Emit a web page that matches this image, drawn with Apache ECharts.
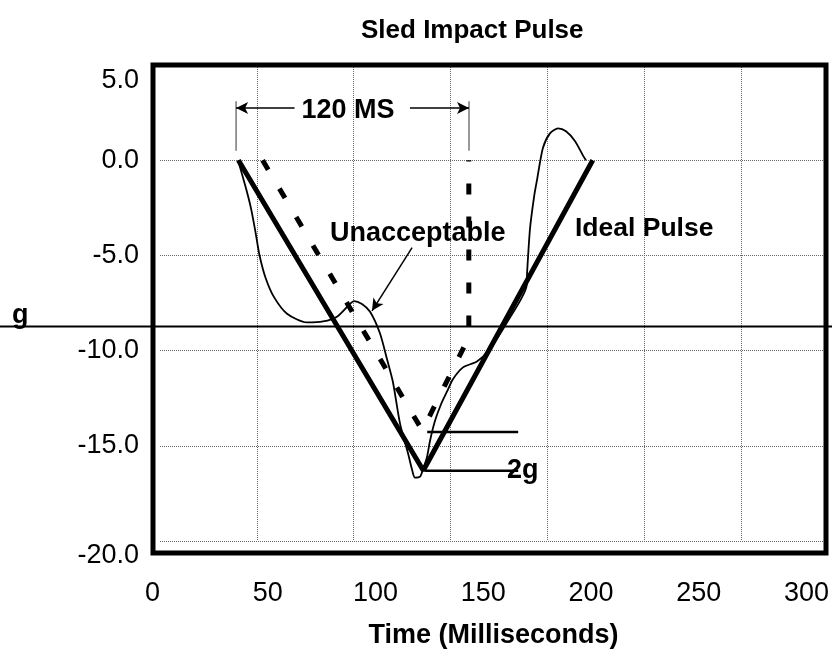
<!DOCTYPE html>
<html>
<head>
<meta charset="utf-8">
<script src="https://cdn.jsdelivr.net/npm/echarts@6/dist/echarts.min.js"></script>
<style>
  html, body { margin: 0; padding: 0; background: #fff; }
  #chart { width: 832px; height: 654px; }
</style>
</head>
<body>
<div id="chart"></div>
<script>
// ---------- data ----------
const xTickLabels = [0, 50, 100, 150, 200, 250, 300];

const idealX = [40.5, 136, 223.5];
const idealY = [0, -16.3, 0];

const dashX = [53, 135.5, 159.5, 159.5];
const dashY = [0, -14.2, -9.3, 0];

const thinX = [40.3, 44.2, 47.0, 49.3, 51.4, 54.5, 58.9, 65.6, 75.9, 84.2, 91.4, 98.1, 100.2,
  104.3, 108.5, 113.6, 117.3, 120.3, 124.0, 128.1, 130.2, 131.7, 134.3, 135.8, 137.9, 139.5,
  142.0, 145.1, 148.2, 151.3, 156.5, 163.7, 170.0, 179.5, 189.3, 189.6, 191.1, 193.2, 194.7,
  197.8, 201.4, 205.6, 209.7, 214.4, 218.5, 220.0];
const thinY = [0, -1.40, -2.53, -3.76, -4.99, -6.17, -7.19, -8.06, -8.52, -8.47, -8.22, -7.55, -7.40,
  -7.55, -7.96, -9.09, -10.47, -11.65, -13.85, -15.39, -16.26, -16.67, -16.62, -16.26, -15.59, -14.72,
  -13.70, -12.83, -12.16, -11.50, -10.88, -10.57, -9.96, -8.47, -6.63, -5.91, -3.60, -1.92, -1.05,
  0.65, 1.41, 1.67, 1.52, 1.00, 0.24, 0];

// "120 MS" bracket
const bracketX = [39.3, 159.6];
const bracketY = [3.1, 0.49];
const arrowY = 2.74;
const arrowLeftFrom = 69.5, arrowRightFrom = 129.1;

// "Unacceptable" arrow
const unaccArrowFrom = [130.2, -4.59];
const unaccArrowTo = [109.5, -7.91];

// 2g reference lines
const twoGTopY = -14.27, twoGBottomY = -16.31;
const twoGTopX = [138, 185];
const twoGBottomX = [137, 185];

// horizontal reference line across the page (g level)
const gLineValue = -8.73;

// ---------- helpers ----------
const zip = (xs, ys) => xs.map((x, i) => [x, ys[i]]);
const FONT = 'Liberation Sans, Arial, sans-serif';

const chart = echarts.init(document.getElementById('chart'), null, { renderer: 'canvas' });

const option = {
  animation: false,
  backgroundColor: '#fff',
  title: {
    text: 'Sled Impact Pulse',
    left: 356, top: 13,
    textStyle: { fontFamily: FONT, fontWeight: 'bold', fontSize: 26, color: '#000' }
  },
  grid: [
    { left: 160, right: 5, top: 65, bottom: 101, show: false },
    { left: 160, right: 25, top: 65, bottom: 101, show: false },
    { left: 153, right: 6, top: 65, bottom: 101, show: true, borderColor: '#000', borderWidth: 5, backgroundColor: 'transparent', z: 10 }
  ],
  xAxis: [
    {
      type: 'value', gridIndex: 0, min: 0, max: 344.5, interval: 50,
      axisLine: { show: false }, axisTick: { show: false }, axisLabel: { show: false },
      splitLine: { show: true, showMinLine: false, lineStyle: { color: '#666', type: [1, 1], width: 1 } },
      name: 'Time (Milliseconds)', nameLocation: 'middle', nameGap: 81,
      nameTextStyle: { fontFamily: FONT, fontWeight: 'bold', fontSize: 27, color: '#000' }
    },
    {
      type: 'value', gridIndex: 1, min: 0, max: 300, interval: 50,
      axisLine: { show: false }, axisTick: { show: false }, splitLine: { show: false },
      axisLabel: {
        show: true, margin: 27, fontFamily: FONT, fontSize: 27, color: '#000',
        showMinLabel: true, showMaxLabel: true, alignMinLabel: 'right',
        formatter: v => String(xTickLabels[xTickLabels.indexOf(v)] ?? '')
      }
    },
    { type: 'value', gridIndex: 2, show: false, min: 0, max: 1 }
  ],
  yAxis: [
    {
      type: 'value', gridIndex: 0, min: -20, max: 5, interval: 5,
      axisLine: { show: false }, axisTick: { show: false },
      axisLabel: { show: true, margin: 21, fontFamily: FONT, fontSize: 27, color: '#000',
        formatter: v => v === 5 ? '{top|' + v.toFixed(1) + '}' : (v === -20 ? '{bot|' + v.toFixed(1) + '}' : v.toFixed(1)),
        rich: {
          top: { fontFamily: FONT, fontSize: 27, color: '#000', padding: [32, 0, 0, 0] },
          bot: { fontFamily: FONT, fontSize: 27, color: '#000', padding: [30, 0, 0, 0] }
        }
      },
      splitLine: { show: true, lineStyle: { color: '#666', type: [1, 1], width: 1 } }
    },
    { type: 'value', gridIndex: 1, show: false, min: 0, max: 1 },
    { type: 'value', gridIndex: 2, show: false, min: 0, max: 1 }
  ],
  series: [
    {
      name: 'Ideal Pulse', type: 'line', xAxisIndex: 0, yAxisIndex: 0,
      data: zip(idealX, idealY), showSymbol: false, symbol: 'none',
      lineStyle: { color: '#000', width: 5 }, z: 5,
      markLine: {
        silent: true, symbol: ['none', 'arrow'], symbolSize: [9, 12],
        label: { show: false },
        lineStyle: { color: '#000', width: 1.5, type: 'solid' },
        data: [
          [{ coord: [arrowLeftFrom, arrowY] }, { coord: [bracketX[0], arrowY] }],
          [{ coord: [arrowRightFrom, arrowY] }, { coord: [bracketX[1], arrowY] }],
          [{ coord: unaccArrowFrom }, { coord: unaccArrowTo }]
        ]
      }
    },
    {
      name: 'Acceptable', type: 'line', xAxisIndex: 0, yAxisIndex: 0,
      data: zip(dashX, dashY), showSymbol: false, symbol: 'none',
      lineStyle: { color: '#000', width: 5, type: [11, 22], cap: 'butt' }, z: 4
    },
    {
      name: 'Unacceptable', type: 'line', xAxisIndex: 0, yAxisIndex: 0,
      data: zip(thinX, thinY), showSymbol: false, symbol: 'none', smooth: 0.25,
      lineStyle: { color: '#000', width: 1.8 }, z: 6
    },
    {
      name: 'bracketL', type: 'line', xAxisIndex: 0, yAxisIndex: 0,
      data: [[bracketX[0], bracketY[0]], [bracketX[0], bracketY[1]]], showSymbol: false, symbol: 'none',
      lineStyle: { color: '#777', width: 1.5 }
    },
    {
      name: 'bracketR', type: 'line', xAxisIndex: 0, yAxisIndex: 0,
      data: [[bracketX[1], bracketY[0]], [bracketX[1], bracketY[1]]], showSymbol: false, symbol: 'none',
      lineStyle: { color: '#777', width: 1.5 }
    },
    {
      name: '2g top', type: 'line', xAxisIndex: 0, yAxisIndex: 0,
      data: twoGTopX.map(x => [x, twoGTopY]), showSymbol: false, symbol: 'none',
      lineStyle: { color: '#000', width: 2.5 }
    },
    {
      name: '2g bottom', type: 'line', xAxisIndex: 0, yAxisIndex: 0,
      data: twoGBottomX.map(x => [x, twoGBottomY]), showSymbol: false, symbol: 'none',
      lineStyle: { color: '#000', width: 2.5 }
    }
  ]
};

chart.setOption(option);

const gPix = chart.convertToPixel({ gridIndex: 0 }, [0, gLineValue]);
const txt = (text, x, y, size, align) => ({
  type: 'text', x: x, y: y, z: 20,
  style: { text: text, fill: '#000', fontFamily: FONT, fontWeight: 'bold', fontSize: size,
    textAlign: align || 'left', textVerticalAlign: 'middle' }
});
chart.setOption({
  graphic: [
    { type: 'line', z: 15, shape: { x1: 0, y1: gPix[1], x2: 832, y2: gPix[1] },
      style: { stroke: '#000', lineWidth: 2 } },
    txt('120 MS', 348, 111, 27, 'center'),
    txt('Unacceptable', 330, 234, 27),
    txt('Ideal Pulse', 575, 229, 26.5),
    txt('2g', 507, 471, 27),
    txt('g', 12, 316, 27)
  ]
});
</script>
</body>
</html>
